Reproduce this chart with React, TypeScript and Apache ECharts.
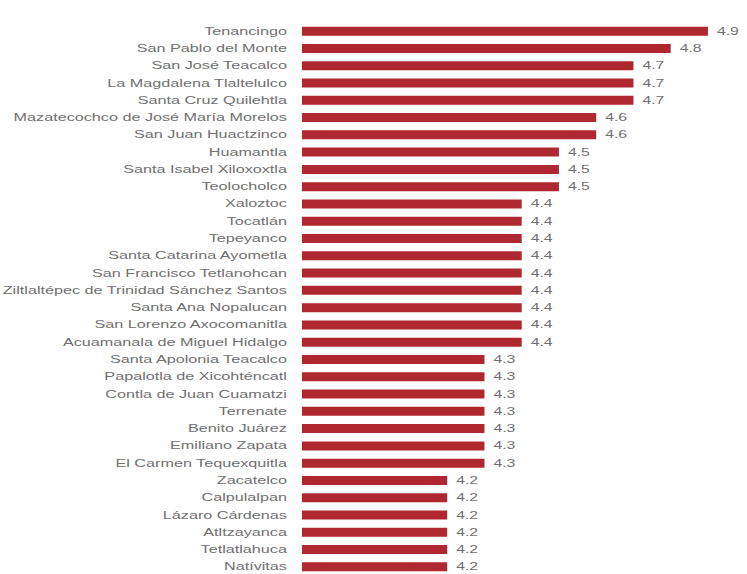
import React, { useEffect, useRef } from "react";
import * as echarts from "echarts";

const categories: string[] = [
  "Tenancingo",
  "San Pablo del Monte",
  "San José Teacalco",
  "La Magdalena Tlaltelulco",
  "Santa Cruz Quilehtla",
  "Mazatecochco de José María Morelos",
  "San Juan Huactzinco",
  "Huamantla",
  "Santa Isabel Xiloxoxtla",
  "Teolocholco",
  "Xaloztoc",
  "Tocatlán",
  "Tepeyanco",
  "Santa Catarina Ayometla",
  "San Francisco Tetlanohcan",
  "Ziltlaltépec de Trinidad Sánchez Santos",
  "Santa Ana Nopalucan",
  "San Lorenzo Axocomanitla",
  "Acuamanala de Miguel Hidalgo",
  "Santa Apolonia Teacalco",
  "Papalotla de Xicohténcatl",
  "Contla de Juan Cuamatzi",
  "Terrenate",
  "Benito Juárez",
  "Emiliano Zapata",
  "El Carmen Tequexquitla",
  "Zacatelco",
  "Calpulalpan",
  "Lázaro Cárdenas",
  "Atltzayanca",
  "Tetlatlahuca",
  "Natívitas",
];

const values: number[] = [
  4.9, 4.8, 4.7, 4.7, 4.7, 4.6, 4.6, 4.5, 4.5, 4.5, 4.4, 4.4, 4.4, 4.4, 4.4, 4.4,
  4.4, 4.4, 4.4, 4.3, 4.3, 4.3, 4.3, 4.3, 4.3, 4.3, 4.2, 4.2, 4.2, 4.2, 4.2, 4.2,
];

const STRETCH = 1.5;
const INNER_W = 747 / STRETCH;

export default function App() {
  const ref = useRef<HTMLDivElement>(null);
  useEffect(() => {
    if (!ref.current) return;
    const chart = echarts.init(ref.current, undefined, { renderer: "svg" });
    chart.setOption({
      animation: false,
      backgroundColor: "#ffffff",
      grid: {
        left: 201.3,
        top: 22.5,
        width: 295.5,
        height: 553,
        containLabel: false,
        outerBoundsMode: "none",
      },
      xAxis: {
        type: "value",
        min: 3.81,
        max: 5.0,
        show: false,
      },
      yAxis: {
        type: "category",
        data: categories,
        inverse: true,
        axisLine: { show: false },
        axisTick: { show: false },
        axisLabel: {
          interval: 0,
          margin: 10,
          color: "#707070",
          fontSize: 10.8,
          fontFamily: "Liberation Sans, Arial, sans-serif",
        },
      },
      series: [
        {
          type: "bar",
          data: values,
          barWidth: 9,
          itemStyle: { color: "#b0282f" },
          label: {
            show: true,
            position: "right",
            distance: 6,
            color: "#707070",
            fontSize: 10.5,
            fontFamily: "Liberation Sans, Arial, sans-serif",
            formatter: (p: any) => Number(p.value).toFixed(1),
          },
        },
      ],
    });
    return () => chart.dispose();
  }, []);
  return (
    <div
      style={{
        position: "fixed",
        left: 0,
        top: 0,
        width: 747,
        height: 574,
        overflow: "hidden",
        background: "#fff",
      }}
    >
      <div
        ref={ref}
        style={{
          width: INNER_W,
          height: 600,
          transform: `scaleX(${STRETCH})`,
          transformOrigin: "0 0",
        }}
      />
    </div>
  );
}
